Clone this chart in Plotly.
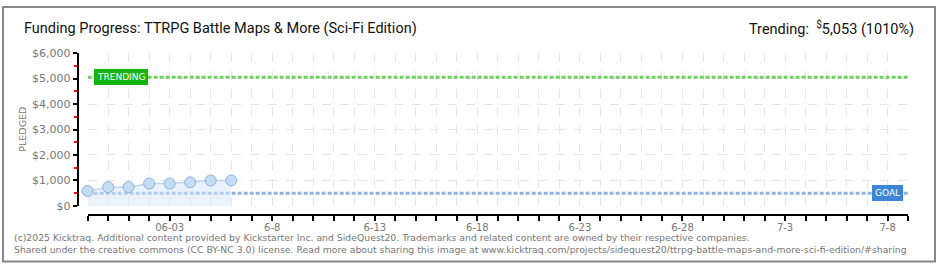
import plotly.graph_objects as go
from datetime import date, timedelta

# ---- data ----
dates = ["2025-05-30", "2025-05-31", "2025-06-01", "2025-06-02",
         "2025-06-03", "2025-06-04", "2025-06-05", "2025-06-06"]
pledged = [585, 735, 735, 875, 875, 925, 1000, 1000]
goal = 500
trending = 5053
x_start = "2025-05-30"
x_end = "2025-07-09"
y_ticks = [0, 1000, 2000, 3000, 4000, 5000, 6000]
y_tick_labels = ["$0", "$1,000", "$2,000", "$3,000", "$4,000", "$5,000", "$6,000"]
x_label_map = {"2025-06-03": "06-03", "2025-06-08": "6-8", "2025-06-13": "6-13",
               "2025-06-18": "6-18", "2025-06-23": "6-23", "2025-06-28": "6-28",
               "2025-07-03": "7-3", "2025-07-08": "7-8"}
title_text = "Funding Progress: TTRPG Battle Maps &amp; More (Sci-Fi Edition)"
trend_text = "Trending:  <sup>$</sup>5,053 (1010%)"
footer1 = ("(c)2025 Kicktraq. Additional content provided by Kickstarter Inc. and SideQuest20. "
           "Trademarks and related content are owned by their respective companies.")
footer2 = ("Shared under the creative commons (CC BY-NC 3.0) license. Read more about sharing this image at "
           "www.kicktraq.com/projects/sidequest20/ttrpg-battle-maps-and-more-sci-fi-edition/#sharing")

W, H = 940, 270
def px(x): return x / W
def py(y): return (H - y) / H

# all day ticks
d0 = date.fromisoformat(x_start)
d1 = date.fromisoformat(x_end)
all_days = []
d = d0
while d <= d1:
    all_days.append(d.isoformat())
    d += timedelta(days=1)
tick_text = [x_label_map.get(s, " ") for s in all_days]

fig = go.Figure()

# trending line
fig.add_trace(go.Scatter(x=[x_start, x_end], y=[trending, trending], mode="lines",
                         line=dict(color="#6fd060", width=3, dash="4px,2px"),
                         hoverinfo="skip", showlegend=False))
# goal line
fig.add_trace(go.Scatter(x=[x_start, x_end], y=[goal, goal], mode="lines",
                         line=dict(color="#8fb4e0", width=3, dash="4px,2px"),
                         hoverinfo="skip", showlegend=False))
# pledged data
fig.add_trace(go.Scatter(x=dates, y=pledged, mode="lines+markers",
                         line=dict(color="#bcd5f2", width=1.5),
                         fill="tozeroy", fillcolor="rgba(214,230,250,0.5)",
                         marker=dict(size=11, color="#c5dcf5", line=dict(color="#8db2dc", width=1)),
                         cliponaxis=False, showlegend=False))

font_main = "Roboto, 'DejaVu Sans', sans-serif"
font_small = "'DejaVu Sans', Verdana, sans-serif"

fig.update_layout(
    width=W, height=H,
    margin=dict(l=0, r=0, t=0, b=0),
    paper_bgcolor="white", plot_bgcolor="white",
    xaxis=dict(domain=[px(86), px(910)], type="date",
               range=[x_start, x_end],
               tickvals=all_days, ticktext=tick_text,
               showgrid=True, gridcolor="#e6e6e6", griddash="dash", gridwidth=1,
               showline=True, linecolor="black", linewidth=2,
               ticks="outside", ticklen=5, tickcolor="black", tickwidth=1.5,
               ticklabelstandoff=-2,
               anchor="free", position=py(220),
               tickfont=dict(family=font_small, size=10, color="#777"),
               zeroline=False, fixedrange=True),
    yaxis=dict(domain=[py(210), py(49.5)], range=[0, 6000],
               tickvals=y_ticks, ticktext=y_tick_labels,
               showgrid=True, gridcolor="#e6e6e6", griddash="dash", gridwidth=1,
               showline=True, linecolor="black", linewidth=2,
               ticks="outside", ticklen=4, tickcolor="black", tickwidth=1.5,
               minor=dict(tickvals=[500, 1500, 2500, 3500, 4500, 5500], ticks="outside",
                          ticklen=3, tickcolor="red", tickwidth=1.5, showgrid=False),
               anchor="free", position=px(76),
               tickfont=dict(family=font_small, size=11, color="#777"),
               zeroline=False, fixedrange=True),
)

annotations = [
    dict(text=title_text, x=px(20), y=py(24), xref="paper", yref="paper",
         xanchor="left", yanchor="middle", showarrow=False,
         font=dict(family=font_main, size=14.5, color="#111")),
    dict(text=trend_text, x=px(918), y=py(23), xref="paper", yref="paper",
         xanchor="right", yanchor="middle", showarrow=False,
         font=dict(family=font_main, size=14.5, color="#111")),
    dict(text="PLEDGED", x=px(21), y=py(129), xref="paper", yref="paper",
         textangle=-90, showarrow=False, xanchor="center", yanchor="middle",
         font=dict(family=font_small, size=9.5, color="#777")),
    dict(text="TRENDING", x="2025-05-31 15:00", y=trending, xref="x", yref="y",
         showarrow=False, bgcolor="#13b50e", bordercolor="#13b50e", borderpad=2,
         font=dict(family=font_small, size=9, color="white"), xanchor="center", yanchor="middle"),
    dict(text="GOAL", x="2025-07-08", y=goal, xref="x", yref="y",
         showarrow=False, bgcolor="#3b86d6", bordercolor="#3b86d6", borderpad=2,
         font=dict(family=font_small, size=9, color="white"), xanchor="center", yanchor="middle"),
    dict(text=footer1, x=px(10), y=py(243), xref="paper", yref="paper",
         xanchor="left", yanchor="middle", showarrow=False,
         font=dict(family=font_small, size=9.3, color="#777")),
    dict(text=footer2, x=px(10), y=py(256), xref="paper", yref="paper",
         xanchor="left", yanchor="middle", showarrow=False,
         font=dict(family=font_small, size=9.3, color="#777")),
]
fig.update_layout(annotations=annotations)

fig.add_shape(type="rect", xref="paper", yref="paper",
              x0=px(1), x1=px(937), y0=py(268.5), y1=py(1),
              line=dict(color="#888", width=2), fillcolor="rgba(0,0,0,0)", layer="above")

fig.write_html("out.html")
